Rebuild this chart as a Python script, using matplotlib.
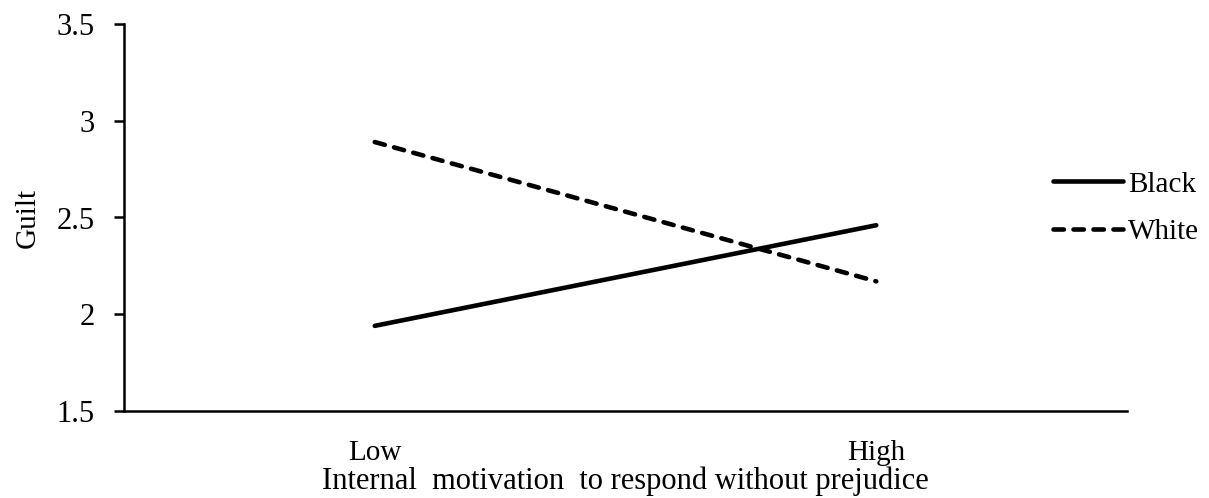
import matplotlib
matplotlib.use("Agg")
import matplotlib.pyplot as plt

categories = ["Low", "High"]
black_vals = [1.94, 2.46]
white_vals = [2.89, 2.17]
series_names = ["Black", "White"]
yticks = [1.5, 2, 2.5, 3, 3.5]
ytick_labels = ["1.5", "2", "2.5", "3", "3.5"]

plt.rcParams['font.family'] = ['Liberation Serif', 'DejaVu Serif']
plt.rcParams['font.size'] = 21

fig = plt.figure(figsize=(12.09, 4.98), dpi=100)
ax = fig.add_axes([124/1209, 1-411/498, (1127-124)/1209, (411-24)/498])

x = list(range(len(categories)))
ax.plot(x, black_vals, color='black', lw=3.3, solid_capstyle='round', label=series_names[0])
ax.plot(x, white_vals, color='black', lw=3.3, linestyle=(0, (2.27, 2.09)),
        dash_capstyle='round', label=series_names[1])

ax.set_xlim(-0.5, 1.5)
ax.set_ylim(1.5, 3.5)
ax.set_yticks(yticks)
ax.set_yticklabels(ytick_labels)
ax.set_xticks(x)
ax.set_xticklabels(categories)

for s in ['top', 'right']:
    ax.spines[s].set_visible(False)
for s in ['left', 'bottom']:
    ax.spines[s].set_linewidth(1.8)

ax.tick_params(axis='y', direction='out', length=7.2, width=1.8, pad=14, labelsize=22)
ax.tick_params(axis='x', length=0, pad=21, labelsize=21)

ax.set_ylabel("Guilt", fontsize=21, labelpad=11)
ax.set_xlabel("Internal  motivation  to respond without prejudice", fontsize=22, labelpad=0)

fig.legend(loc='center left', bbox_to_anchor=(1053/1209, 1-208/498), frameon=False,
           borderpad=0, borderaxespad=0, handlelength=2.4, handletextpad=0.17,
           labelspacing=0.72, fontsize=21)

fig.savefig("out.png", dpi=100)
